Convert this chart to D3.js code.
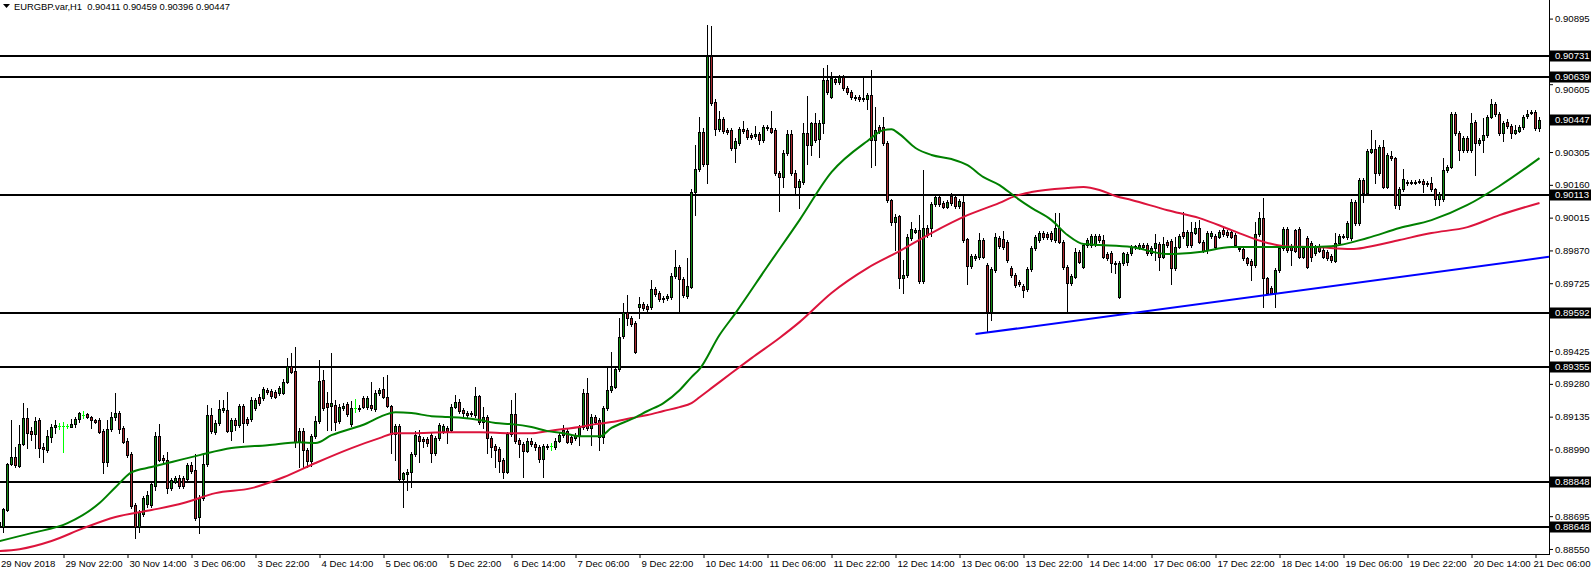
<!DOCTYPE html>
<html><head><meta charset="utf-8">
<script src="https://cdn.jsdelivr.net/npm/d3@7"></script>
<style>
html,body{margin:0;padding:0;background:#fff;overflow:hidden;}
svg{display:block;font-family:"Liberation Sans",Arial,sans-serif;}
</style></head><body>
<svg id="c" width="1591" height="568"></svg>
<script>
const symbolTitle = "EURGBP.var,H1";
const lastOHLC = ["0.90411","0.90459","0.90396","0.90447"];
const currentPrice = 0.90447;

// OHLC in points (price x 100000), one value per H1 bar, oldest first
const opens = [88668,88646,88722,88925,88956,88916,89013,89129,89071,89057,
89120,89000,88987,89044,89089,89093,89093,89093,89089,89102,
89124,89142,89146,89133,89120,89120,89071,88934,89080,89133,
89151,89085,89027,88969,88744,88646,88704,88748,88744,88827,
89048,88952,88943,88819,88845,88863,88863,88858,88921,88898,
88691,88775,88925,89142,89066,89107,89164,89164,89071,89120,
89098,89181,89124,89124,89173,89221,89217,89252,89248,89243,
89239,89239,89288,89358,89337,89022,89071,88987,88939,89048,
89116,89297,89195,89181,89186,89116,89173,89190,89102,89173,
89168,89217,89177,89186,89168,89239,89257,89221,89181,89057,
89093,88858,88880,88889,88969,89048,89035,89035,89053,88974,
89040,89071,89085,89075,89177,89199,89164,89151,89151,89142,
89225,89111,89133,89040,89004,88991,88943,88889,89057,89146,
89031,89013,88983,89027,89013,89000,88947,89004,89004,89000,
89027,89075,89071,89044,89040,89048,89089,89239,89085,89133,
89120,89044,89173,89252,89266,89345,89491,89597,89571,89549,
89619,89632,89623,89619,89699,89682,89660,89660,89664,89756,
89796,89743,89668,89708,90128,90229,90393,90251,90729,90526,
90406,90451,90402,90402,90323,90345,90406,90402,90380,90375,
90384,90358,90411,90411,90402,90212,90194,90301,90384,90212,
90150,90172,90389,90336,90433,90362,90433,90623,90548,90627,
90614,90636,90588,90570,90548,90548,90539,90539,90557,90358,
90415,90415,90345,90093,89995,90022,89747,89761,89925,89951,
89960,89735,89969,89969,90075,90106,90080,90062,90111,90106,
90066,90084,89920,89800,89836,89840,89916,89805,89597,89783,
89925,89920,89907,89792,89761,89730,89712,89699,89787,89881,
89916,89947,89942,89947,89916,89969,89907,89796,89726,89752,
89863,89796,89894,89894,89898,89933,89916,89854,89858,89814,
89664,89814,89818,89858,89889,89881,89894,89894,89858,89881,
89898,89840,89907,89912,89792,89885,89951,89894,89951,89947,
89969,89907,89871,89933,89933,89929,89960,89951,89951,89938,
89881,89876,89836,89823,89805,89942,90013,89747,89704,89682,
89783,89881,89964,89889,89960,89964,89840,89925,89903,89858,
89889,89871,89863,89845,89823,89903,89929,89929,89925,90084,
89991,90181,90124,90305,90318,90212,90327,90150,90287,90278,
90071,90141,90172,90172,90168,90172,90177,90168,90168,90141,
90097,90097,90225,90238,90473,90389,90314,90367,90314,90437,
90345,90358,90380,90460,90517,90473,90389,90437,90420,90389,
90398,90415,90464,90478,90482,90411];
const highs = [88677,88731,88930,89120,89000,89098,89195,89173,89089,89133,
89129,89018,89075,89102,89120,89107,89111,89102,89124,89133,
89155,89160,89151,89137,89124,89129,89080,89120,89155,89239,
89160,89093,89040,88978,88753,88722,88783,88806,88845,89066,
89102,88965,88978,88863,88871,88876,88871,88930,88934,88969,
88788,88974,89186,89173,89120,89208,89208,89243,89129,89129,
89190,89190,89133,89221,89217,89234,89266,89262,89257,89252,
89270,89301,89394,89416,89442,89085,89085,88996,89057,89137,
89385,89341,89243,89416,89208,89190,89195,89199,89204,89212,
89186,89225,89225,89288,89252,89262,89310,89319,89186,89102,
89102,88889,88903,88978,89071,89075,89044,89044,89062,89048,
89107,89102,89093,89190,89230,89212,89173,89160,89160,89266,
89230,89177,89142,89048,89013,89000,88952,89066,89208,89239,
89040,89022,89040,89040,89022,89009,89013,89013,89018,89040,
89062,89098,89080,89053,89062,89098,89257,89306,89146,89142,
89129,89181,89350,89420,89354,89571,89637,89673,89579,89558,
89664,89641,89632,89739,89708,89691,89668,89677,89770,89871,
89805,89752,89836,90141,90336,90460,90411,90867,90862,90539,
90487,90460,90411,90411,90367,90415,90442,90411,90389,90420,
90393,90424,90424,90487,90411,90221,90314,90402,90402,90225,
90185,90433,90552,90437,90478,90446,90677,90690,90658,90640,
90645,90645,90596,90579,90557,90557,90636,90566,90667,90504,
90424,90460,90354,90097,90030,90026,89827,89942,89995,89969,
90026,90225,89982,90084,90111,90111,90089,90093,90124,90115,
90097,90119,89925,89854,89854,89947,89925,89814,89796,89947,
89933,89956,89916,89800,89770,89739,89721,89796,89889,89938,
89956,89956,89951,89956,90035,90035,89916,89805,89765,89881,
89871,89903,89925,89942,89942,89942,89938,89863,89867,89823,
89823,89863,89863,89894,89894,89903,89903,89903,89889,89942,
89907,89929,89916,89920,89929,89942,90039,89960,89995,89995,
90004,89916,89956,89956,89942,89960,89973,89960,89960,89947,
89885,89885,89840,89831,89995,90039,90102,89752,89712,89792,
89889,89973,89973,89898,89964,89973,89889,89933,89912,89894,
89898,89881,89871,89854,89947,89942,89942,89999,90097,90093,
90190,90190,90318,90402,90358,90336,90358,90301,90310,90283,
90150,90229,90181,90181,90181,90185,90185,90177,90194,90146,
90128,90278,90247,90482,90482,90398,90375,90375,90478,90446,
90367,90455,90469,90539,90526,90482,90442,90451,90429,90424,
90424,90469,90491,90491,90491,90459];
const lows = [88646,88624,88718,88921,88912,88912,89009,88996,89031,88996,
88956,88934,88978,89022,89062,89080,88978,89085,89089,89089,
89111,89129,89129,89085,89107,89062,88885,88916,89071,89120,
89062,89018,88956,88731,88598,88624,88695,88735,88735,88810,
88939,88930,88797,88810,88841,88819,88819,88850,88885,88677,
88620,88766,88916,89062,89057,89098,89155,89066,89031,89075,
89089,89022,89098,89116,89164,89186,89208,89234,89217,89217,
89230,89234,89284,89328,89000,88912,88912,88912,88916,89040,
89107,89164,89075,89075,89075,89107,89164,89137,89093,89155,
89160,89173,89168,89164,89160,89230,89217,89177,88974,88943,
88850,88735,88810,88823,88960,88934,89000,89004,88934,88965,
89031,89062,89018,89066,89173,89151,89137,89133,89137,89133,
89102,89085,88974,88956,88912,88889,88863,88885,89048,89018,
88956,88867,88978,89004,88987,88934,88867,88991,88987,88991,
89022,89044,89018,89013,89031,89009,89080,89075,89009,89107,
88987,89018,89164,89243,89262,89337,89483,89540,89535,89416,
89571,89606,89597,89610,89668,89646,89641,89650,89655,89748,
89593,89664,89660,89704,90026,90221,90242,90168,90513,90380,
90398,90389,90384,90314,90260,90336,90389,90362,90362,90367,
90340,90349,90402,90389,90203,90044,90150,90292,90203,90115,
90058,90163,90251,90292,90349,90283,90389,90561,90544,90605,
90605,90579,90561,90539,90535,90531,90531,90495,90238,90247,
90389,90336,90084,89982,89871,89704,89682,89752,89916,89947,
89726,89726,89929,89933,90066,90066,90058,90058,90071,90058,
90058,89907,89721,89792,89827,89831,89836,89509,89562,89774,
89881,89876,89818,89752,89708,89712,89664,89691,89778,89871,
89907,89920,89920,89912,89907,89903,89787,89602,89717,89747,
89814,89792,89885,89885,89889,89907,89836,89827,89774,89770,
89660,89805,89805,89849,89876,89876,89881,89849,89849,89827,
89783,89836,89885,89721,89783,89881,89925,89885,89885,89942,
89903,89863,89858,89925,89876,89925,89933,89929,89925,89885,
89867,89827,89805,89739,89796,89933,89619,89677,89677,89619,
89774,89871,89863,89805,89863,89836,89836,89792,89823,89849,
89863,89836,89827,89818,89818,89898,89925,89920,89916,89982,
89982,90084,90115,90301,90168,90203,90146,90146,90269,90058,
90053,90133,90159,90163,90163,90168,90128,90155,90133,90071,
90071,90089,90216,90234,90380,90269,90305,90305,90305,90203,
90336,90305,90371,90455,90464,90380,90354,90411,90367,90384,
90393,90406,90455,90473,90402,90396];
const closes = [88650,88726,88925,88956,88921,89013,89129,89062,89057,89116,
88996,88991,89048,89089,89098,89093,89093,89093,89102,89124,
89151,89142,89133,89120,89111,89066,88934,89080,89133,89151,
89080,89022,88965,88739,88646,88713,88775,88788,88836,89048,
88943,88943,88819,88854,88863,88827,88827,88921,88894,88686,
88775,88925,89142,89071,89107,89168,89173,89071,89120,89098,
89181,89107,89107,89208,89208,89195,89257,89243,89225,89221,
89262,89288,89358,89332,89022,89071,88987,88939,89048,89116,
89293,89173,89177,89195,89111,89177,89181,89146,89173,89173,
89173,89177,89217,89173,89239,89252,89221,89181,89057,89093,
88858,88885,88889,88969,89053,89027,89027,89018,88974,89040,
89098,89093,89071,89177,89199,89160,89151,89142,89146,89225,
89111,89133,89040,89000,88987,88939,88889,89057,89146,89027,
89013,88983,89027,89013,89000,88947,89004,89000,89004,89027,
89053,89053,89022,89022,89053,89089,89239,89085,89133,89111,
89044,89173,89252,89270,89345,89487,89597,89571,89544,89420,
89632,89615,89610,89699,89677,89655,89655,89668,89756,89796,
89743,89673,89712,90128,90229,90393,90251,90729,90522,90406,
90451,90398,90393,90323,90354,90406,90398,90371,90371,90384,
90358,90415,90415,90393,90212,90194,90301,90384,90212,90150,
90177,90389,90336,90433,90358,90433,90623,90570,90632,90614,
90636,90588,90570,90548,90544,90539,90544,90557,90358,90402,
90398,90345,90093,89995,90017,89747,89761,89929,89964,89960,
89735,89969,89938,90075,90106,90075,90062,90084,90080,90066,
90089,89916,89800,89845,89845,89916,89840,89597,89787,89929,
89889,89885,89827,89761,89717,89721,89695,89787,89881,89929,
89947,89929,89929,89920,89969,89907,89796,89726,89756,89863,
89818,89894,89916,89933,89933,89916,89840,89836,89814,89809,
89814,89858,89854,89885,89885,89894,89885,89858,89881,89903,
89840,89898,89894,89792,89885,89933,89933,89951,89894,89969,
89907,89867,89947,89947,89885,89951,89942,89938,89929,89894,
89876,89836,89814,89805,89942,90013,89747,89682,89682,89783,
89881,89964,89871,89871,89867,89840,89881,89796,89840,89885,
89867,89840,89836,89827,89903,89933,89933,89991,90084,89991,
90181,90124,90310,90318,90212,90327,90150,90292,90278,90071,
90141,90185,90168,90168,90172,90177,90163,90163,90141,90097,
90119,90225,90238,90473,90389,90314,90367,90314,90433,90345,
90358,90380,90460,90517,90473,90389,90433,90420,90389,90402,
90415,90460,90473,90482,90411,90447];

// Moving averages: bar index and value (points)
const maGreenBars = [0,8,17,25,29,33,38,42,50,58,67,75,79,83,92,95,99,103,108,112,116,120,124,128,133,137,141,145,150,153,158,162,166,170,173,175,180,184,192,200,208,217,221,223,225,229,233,238,242,246,250,254,258,263,267,271,275,283,292,300,308,317,325,333,342,350,358,367,375,385];
const maGreenVals = [88585,88620,88664,88753,88823,88889,88912,88930,88965,88996,89009,89022,89018,89053,89107,89133,89155,89151,89137,89133,89129,89120,89107,89102,89089,89071,89062,89048,89048,89085,89124,89160,89195,89252,89310,89345,89496,89593,89800,90004,90216,90354,90402,90406,90384,90323,90292,90274,90247,90194,90159,90106,90058,90004,89938,89898,89894,89885,89854,89863,89885,89885,89885,89889,89925,89969,90004,90071,90155,90278];
const maRedBars = [0,5,13,21,29,38,46,54,63,71,79,88,95,99,103,112,120,128,133,137,141,145,149,153,158,162,166,170,173,175,178,183,188,195,200,208,217,225,233,242,250,254,258,267,271,275,279,283,292,300,308,317,321,329,338,342,350,358,367,375,385];
const maRedVals = [88541,88549,88585,88642,88691,88722,88753,88797,88819,88867,88930,88996,89040,89062,89062,89066,89066,89062,89062,89071,89080,89089,89102,89111,89129,89142,89160,89177,89195,89221,89261,89328,89394,89483,89553,89682,89792,89867,89947,90026,90080,90111,90128,90146,90150,90137,90111,90093,90048,90013,89960,89903,89889,89885,89876,89885,89916,89947,89973,90026,90080];

// Trend line anchors (bar index, price)
const trendBars = [244, 385];
const trendVals = [0.89500, 0.89836];

// Horizontal levels
const levels = [0.90731,0.90639,0.90113,0.89592,0.89355,0.88848,0.88648];

// Price axis tick labels (those not hidden behind level labels)
const priceTicks = [0.90895,0.90605,0.90305,0.90160,0.90015,0.89870,0.89725,0.89425,0.89280,0.89135,0.88990,0.88695,0.88550];

// Time axis labels and the bars they mark
const firstTimeLabel = "29 Nov 2018";
const timeLabels = ["29 Nov 22:00","30 Nov 14:00","3 Dec 06:00","3 Dec 22:00","4 Dec 14:00","5 Dec 06:00","5 Dec 22:00","6 Dec 14:00","7 Dec 06:00","9 Dec 22:00","10 Dec 14:00","11 Dec 06:00","11 Dec 22:00","12 Dec 14:00","13 Dec 06:00","13 Dec 22:00","14 Dec 14:00","17 Dec 06:00","17 Dec 22:00","18 Dec 14:00","19 Dec 06:00","19 Dec 22:00","20 Dec 14:00","21 Dec 06:00"];
const timeTickBars = [16,32,48,64,80,96,112,128,144,160,176,192,208,224,240,256,272,288,304,320,336,352,368,384];

// ---------- drawing ----------
const W = 1591, H = 568;
const plotR = 1549, plotB = 554;
const N = closes.length;
const P = v => v / 100000;
const FS = 9.6;

const svg = d3.select("#c");
const x = d3.scaleLinear().domain([0, N - 1]).range([-0.5, 1539.5]);
const y = d3.scaleLinear().domain([0.90731, 0.88648]).range([55.7, 526.8]);

svg.append("defs").append("clipPath").attr("id", "plot")
  .append("rect").attr("x", 0).attr("y", 0).attr("width", plotR).attr("height", plotB);

const plot = svg.append("g").attr("clip-path", "url(#plot)");

// horizontal levels
plot.append("g").selectAll("line").data(levels).join("line")
  .attr("x1", 0).attr("x2", plotR)
  .attr("y1", d => Math.round(y(d))).attr("y2", d => Math.round(y(d)))
  .attr("stroke", "#000").attr("stroke-width", 2).attr("shape-rendering", "crispEdges");

// candles
const bars = d3.range(N).map(i => ({i, o: P(opens[i]), h: P(highs[i]), l: P(lows[i]), c: P(closes[i])}));
const cg = plot.append("g").attr("shape-rendering", "crispEdges");
bars.forEach(b => {
  const cx = x(b.i);
  const yo = Math.round(y(b.o)), yc = Math.round(y(b.c));
  const yh = Math.round(y(Math.max(b.h, b.o, b.c))), yl = Math.round(y(Math.min(b.l, b.o, b.c)));
  if (opens[b.i] === closes[b.i]) {
    cg.append("line").attr("x1", cx).attr("x2", cx).attr("y1", yh).attr("y2", yl + 1)
      .attr("stroke", "#00ff00").attr("stroke-width", 1);
    cg.append("line").attr("x1", cx - 1.5).attr("x2", cx + 1.5).attr("y1", yo + 0.5).attr("y2", yo + 0.5)
      .attr("stroke", "#00ff00").attr("stroke-width", 1);
  } else {
    cg.append("line").attr("x1", cx).attr("x2", cx).attr("y1", yh).attr("y2", yl + 1)
      .attr("stroke", "#000").attr("stroke-width", 1);
    const t = Math.min(yo, yc), bt = Math.max(yo, yc);
    cg.append("rect").attr("x", cx - 1).attr("y", t + 0.5).attr("width", 2).attr("height", Math.max(1, bt - t))
      .attr("fill", b.c > b.o ? "#138a13" : "#a8282e").attr("stroke", "#000").attr("stroke-width", 1);
  }
});

// moving averages
const line = d3.line().x(d => x(d[0])).y(d => y(P(d[1]))).curve(d3.curveMonotoneX);
plot.append("path").attr("d", line(d3.zip(maRedBars, maRedVals)))
  .attr("fill", "none").attr("stroke", "#dc143c").attr("stroke-width", 2);
plot.append("path").attr("d", line(d3.zip(maGreenBars, maGreenVals)))
  .attr("fill", "none").attr("stroke", "#008000").attr("stroke-width", 2);

// trend line (ray to the right edge)
const slope = (trendVals[1] - trendVals[0]) / (trendBars[1] - trendBars[0]);
const endBar = x.invert(plotR);
plot.append("line")
  .attr("x1", x(trendBars[0])).attr("y1", y(trendVals[0]))
  .attr("x2", x(endBar)).attr("y2", y(trendVals[0] + slope * (endBar - trendBars[0])))
  .attr("stroke", "#0000ff").attr("stroke-width", 2);

// axes frame lines
svg.append("line").attr("x1", plotR + 0.5).attr("x2", plotR + 0.5).attr("y1", 0).attr("y2", plotB + 1)
  .attr("stroke", "#000").attr("stroke-width", 1);
svg.append("line").attr("x1", 0).attr("x2", plotR + 1).attr("y1", plotB + 0.5).attr("y2", plotB + 0.5)
  .attr("stroke", "#000").attr("stroke-width", 1);

// price axis
const yAxis = d3.axisRight(y).tickValues(priceTicks).tickSize(4).tickPadding(2).tickFormat(d3.format(".5f"));
const ya = svg.append("g").attr("transform", `translate(${plotR},0)`).call(yAxis);
ya.select(".domain").remove();
ya.selectAll("text").attr("font-size", FS).attr("font-family", "Liberation Sans, Arial, sans-serif").attr("fill", "#000");
ya.selectAll("line").attr("stroke", "#000");

// highlighted labels (levels + current price)
const hlVals = levels.concat([currentPrice]);
const hlY = hlVals.map(v => Math.round(y(v)));
// keep plain tick labels just clear of a highlighted box directly above them
ya.selectAll(".tick text").each(function(d) {
  const ty = y(d);
  hlY.forEach(hy => {
    if (ty > hy && ty - hy < 12) d3.select(this).attr("dy", (0.32 * FS + (12 - (ty - hy))) + "px");
  });
});
const hl = svg.append("g");
hlVals.forEach((v, k) => {
  const yy = hlY[k];
  hl.append("rect").attr("x", plotR + 1).attr("y", yy - 5.5).attr("width", W - plotR - 1).attr("height", 11).attr("fill", "#000");
  hl.append("text").attr("x", plotR + 6).attr("y", yy).attr("dy", "0.35em")
    .attr("font-size", FS).attr("fill", "#fff").text(d3.format(".5f")(v));
});

// time axis
const xAxis = d3.axisBottom(x).tickValues(timeTickBars).tickSize(4).tickPadding(2)
  .tickFormat((d, i) => timeLabels[i]);
const xa = svg.append("g").attr("transform", `translate(0,${plotB})`).call(xAxis);
xa.select(".domain").remove();
xa.selectAll("text").attr("text-anchor", "start").attr("x", 1.5).attr("font-size", FS)
  .attr("font-family", "Liberation Sans, Arial, sans-serif").attr("fill", "#000");
xa.selectAll("line").attr("stroke", "#000");
// keep the last label inside the picture
xa.selectAll(".tick").each(function(d) {
  const t = d3.select(this).select("text");
  const w = t.node().getComputedTextLength();
  const left = x(d) + 1.5;
  if (left + w > W - 1) t.attr("x", W - 1 - w - x(d));
});
svg.append("text").attr("x", 1).attr("y", plotB + 6).attr("dy", "0.71em").attr("font-size", FS)
  .text(firstTimeLabel);

// title
svg.append("path").attr("d", "M3,4 L10,4 L6.5,8 Z").attr("fill", "#000");
svg.append("text").attr("x", 14).attr("y", 9.5).attr("font-size", 9.4).attr("fill", "#000")
  .style("white-space", "pre").text(symbolTitle + "  " + lastOHLC.join(" "));
</script>
</body></html>
